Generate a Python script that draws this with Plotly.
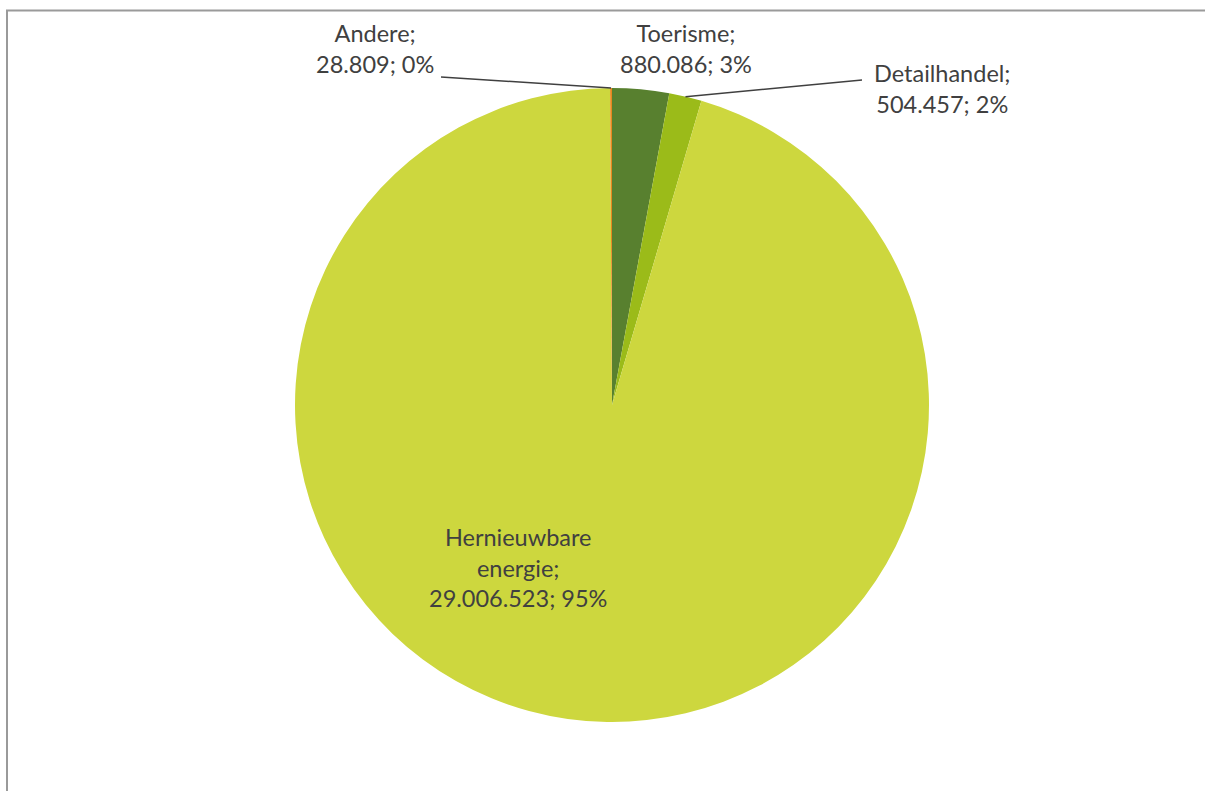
import math
import plotly.graph_objects as go

labels = ["Toerisme", "Detailhandel", "Hernieuwbare energie", "Andere"]
values = [880086, 504457, 29006523, 28809]
colors = ["#58802F", "#9BBB19", "#CDD73E", "#E8871E"]
label_text = ["Toerisme;<br>880.086; 3%", "Detailhandel;<br>504.457; 2%",
              "Hernieuwbare<br>energie;<br>29.006.523; 95%", "Andere;<br>28.809; 0%"]

W, H = 1205, 791
CX, CY, R = 612, 405, 317

def px(x):
    return x / W

def py(y):
    return 1 - y / H

fig = go.Figure(go.Pie(
    labels=labels, values=values, sort=False, direction="clockwise", rotation=0,
    marker=dict(colors=colors, line=dict(width=0)), textinfo="none", hoverinfo="label+value+percent",
    domain=dict(x=[px(CX - R), px(CX + R)], y=[py(CY + R), py(CY - R)]),
    showlegend=False,
))

# angles of slice midpoints (clockwise from top)
total = sum(values)
mids = []
acc = 0
for v in values:
    mids.append((acc + v / 2) / total * 2 * math.pi)
    acc += v

def edge(i):
    a = mids[i]
    return CX + R * math.sin(a), CY - R * math.cos(a)

font = dict(family="Lato, Calibri, sans-serif", size=23.5, color="#404040")
# label anchor positions (px)
label_pos = {0: (686, 49), 1: (942, 89), 2: (518, 567), 3: (375, 49)}
for i, (lx, ly) in label_pos.items():
    fig.add_annotation(x=px(lx), y=py(ly), xref="paper", yref="paper", text=label_text[i],
                       showarrow=False, font=font, align="center", xanchor="center", yanchor="middle")

# leader lines
ex, ey = edge(3)
fig.add_shape(type="line", xref="paper", yref="paper", x0=px(441), y0=py(77), x1=px(ex), y1=py(ey),
              line=dict(color="#404040", width=1.5))
ex, ey = edge(1)
fig.add_shape(type="line", xref="paper", yref="paper", x0=px(862), y0=py(80), x1=px(ex), y1=py(ey),
              line=dict(color="#404040", width=1.5))

# chart frame
fig.add_shape(type="rect", xref="paper", yref="paper", x0=px(7), y0=-0.05, x1=1.05, y1=py(10.5),
              line=dict(color="#9A9A9A", width=2))

fig.update_layout(width=W, height=H, margin=dict(l=0, r=0, t=0, b=0),
                  paper_bgcolor="white", plot_bgcolor="white")
fig.write_html("out.html", config={"displayModeBar": False},
               post_script="document.body.style.margin='0';document.body.style.overflow='hidden';")
